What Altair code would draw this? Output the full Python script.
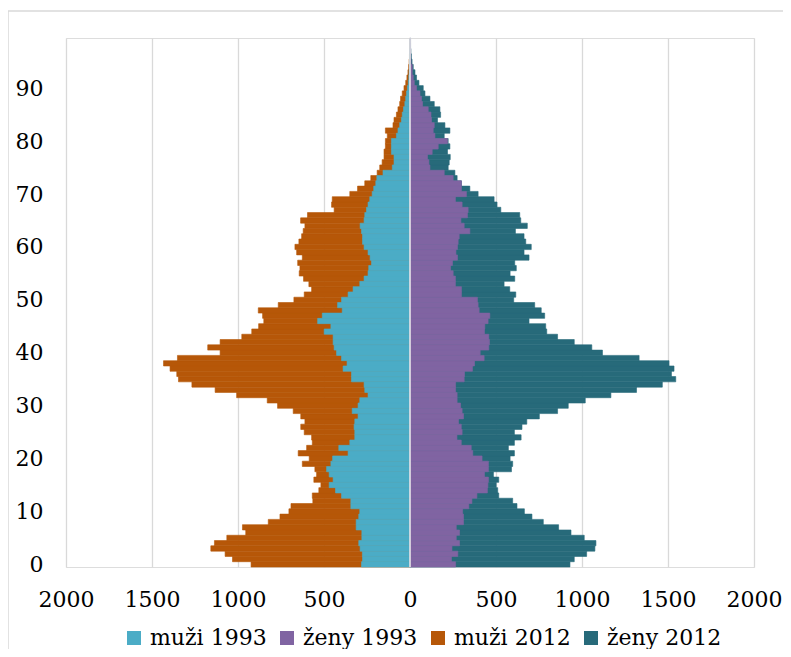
import altair as alt
import pandas as pd

ages = list(range(100))

muzi_1993 = [282, 276, 277, 290, 298, 280, 280, 313, 313, 298,
             292, 344, 344, 398, 433, 470, 447, 470, 485, 460,
             450, 360, 414, 350, 321, 321, 325, 321, 302, 336,
             302, 292, 244, 263, 267, 340, 340, 389, 366, 398,
             427, 441, 447, 447, 499, 460, 537, 510, 394, 421,
             398, 360, 331, 292, 267, 244, 240, 224, 232, 244,
             267, 276, 276, 282, 290, 267, 263, 253, 244, 234,
             220, 211, 199, 193, 157, 103, 93, 93, 108, 108,
             108, 79, 70, 60, 50, 45, 38, 30, 25, 20,
             15, 10, 7, 5, 3, 2, 1, 1, 0, 0]

zeny_1993 = [265, 241, 278, 244, 288, 269, 288, 269, 311, 311,
             306, 342, 360, 389, 450, 453, 456, 433, 456, 456,
             419, 365, 356, 298, 273, 303, 298, 282, 311, 303,
             294, 274, 274, 265, 265, 315, 317, 363, 375, 431,
             408, 458, 462, 458, 433, 435, 454, 464, 402, 396,
             392, 299, 299, 264, 264, 251, 236, 247, 276, 267,
             276, 280, 286, 348, 315, 296, 334, 338, 303, 264,
             328, 299, 299, 251, 199, 116, 110, 102, 129, 164,
             218, 145, 135, 141, 125, 122, 106, 73, 67, 58,
             38, 25, 19, 13, 13, 6, 4, 2, 1, 1]

muzi_2012 = [924, 1032, 1075, 1158, 1137, 1065, 955, 974, 824, 756,
             704, 692, 565, 568, 530, 518, 559, 543, 553, 626,
             586, 650, 601, 568, 572, 615, 635, 611, 635, 679,
             770, 830, 1008, 1133, 1268, 1346, 1356, 1395, 1433, 1352,
             1104, 1176, 1104, 978, 920, 880, 850, 857, 882, 766,
             675, 615, 572, 588, 619, 644, 640, 653, 626, 659,
             669, 646, 630, 621, 611, 636, 596, 441, 456, 452,
             350, 305, 263, 228, 191, 176, 162, 151, 151, 143,
             143, 132, 143, 99, 93, 79, 70, 60, 55, 45,
             35, 25, 18, 12, 8, 5, 3, 2, 1, 1]

zeny_2012 = [930, 955, 1027, 1075, 1081, 1013, 936, 864, 775, 709,
             665, 622, 597, 516, 510, 501, 516, 485, 590, 597,
             582, 607, 572, 607, 646, 607, 651, 679, 752, 858,
             920, 1019, 1168, 1317, 1467, 1545, 1520, 1535, 1506, 1332,
             1119, 1057, 955, 858, 795, 789, 692, 783, 763, 725,
             603, 615, 580, 547, 609, 582, 618, 609, 692, 663,
             705, 673, 663, 613, 682, 644, 638, 528, 506, 489,
             396, 348, 299, 274, 261, 222, 228, 234, 218, 232,
             222, 199, 232, 203, 160, 178, 174, 141, 116, 87,
             77, 52, 38, 29, 19, 12, 8, 5, 3, 2]

series_names = ["muži 1993", "ženy 1993", "muži 2012", "ženy 2012"]
series_colors = ["#4BACC6", "#8064A2", "#B65708", "#276A7A"]
x_ticks = [-2000, -1500, -1000, -500, 0, 500, 1000, 1500, 2000]
y_ticks = [0, 10, 20, 30, 40, 50, 60, 70, 80, 90]

rows = []
# 2012 drawn first (behind), 1993 on top
for name, vals, sign in [("muži 2012", muzi_2012, -1), ("ženy 2012", zeny_2012, 1),
                         ("muži 1993", muzi_1993, -1), ("ženy 1993", zeny_1993, 1)]:
    for a, v in zip(ages, vals):
        rows.append({"age": a, "y0": a - 0.5, "y1": a + 0.5,
                     "value": sign * v, "zero": 0, "series": name})
df = pd.DataFrame(rows)

FONT = "DejaVu Serif"
W, H = 688, 529

xscale = alt.Scale(domain=[-2000, 2000], nice=False, zero=False)
yscale = alt.Scale(domain=[-0.5, 99.5], nice=False, zero=False)
cscale = alt.Scale(domain=series_names, range=series_colors)

bars = alt.Chart(df).mark_rect(strokeWidth=0.6).encode(
    x=alt.X("value:Q", scale=xscale,
            axis=alt.Axis(values=x_ticks, labelExpr="abs(datum.value)", title=None,
                          grid=True, gridColor="#d9d9d9", gridWidth=1.3,
                          domain=False, ticks=False, labelPadding=22,
                          labelOverlap=False, labelFlush=False, labelBound=False,
                          labelFont=FONT, labelFontSize=22,
                          labelColor="#000000")),
    x2="zero:Q",
    y=alt.Y("y0:Q", scale=yscale,
            axis=alt.Axis(values=y_ticks, title=None, grid=False, domain=False,
                          ticks=False, labelPadding=23, labelFont=FONT,
                          labelFlush=False, labelOverlap=False,
                          labelFontSize=22, labelColor="#000000")),
    y2="y1:Q",
    color=alt.Color("series:N", scale=cscale,
                    legend=alt.Legend(title=None, orient="none", direction="horizontal",
                                      legendX=57, legendY=589,
                                      symbolType="square", symbolSize=196,
                                      symbolStrokeWidth=0, labelFont=FONT,
                                      labelFontSize=22, labelColor="#000000",
                                      columnPadding=9, labelOffset=5)),
    stroke=alt.Stroke("series:N", scale=cscale, legend=None),
)

zero_line = alt.Chart(pd.DataFrame({"z": [0]})).mark_rule(color="#eeeeee", strokeWidth=1.5).encode(
    x=alt.X("z:Q", scale=xscale), y=alt.value(0), y2=alt.value(H)
)

frame = alt.Chart(pd.DataFrame({"z": [0]})).mark_rect(
    fill=None, stroke="#d9d9d9", strokeWidth=1.5, clip=False
).encode(x=alt.value(-58), x2=alt.value(760), y=alt.value(-27), y2=alt.value(700))

chart = alt.layer(frame, bars, zero_line).properties(
    width=W, height=H,
    autosize=alt.AutoSizeParams(type="none"),
    padding={"left": 58, "top": 30, "right": 29, "bottom": 82},
).configure_view(stroke=None).configure(background="#ffffff")

chart.save("out.html", embed_options={"renderer": "svg", "actions": False})
